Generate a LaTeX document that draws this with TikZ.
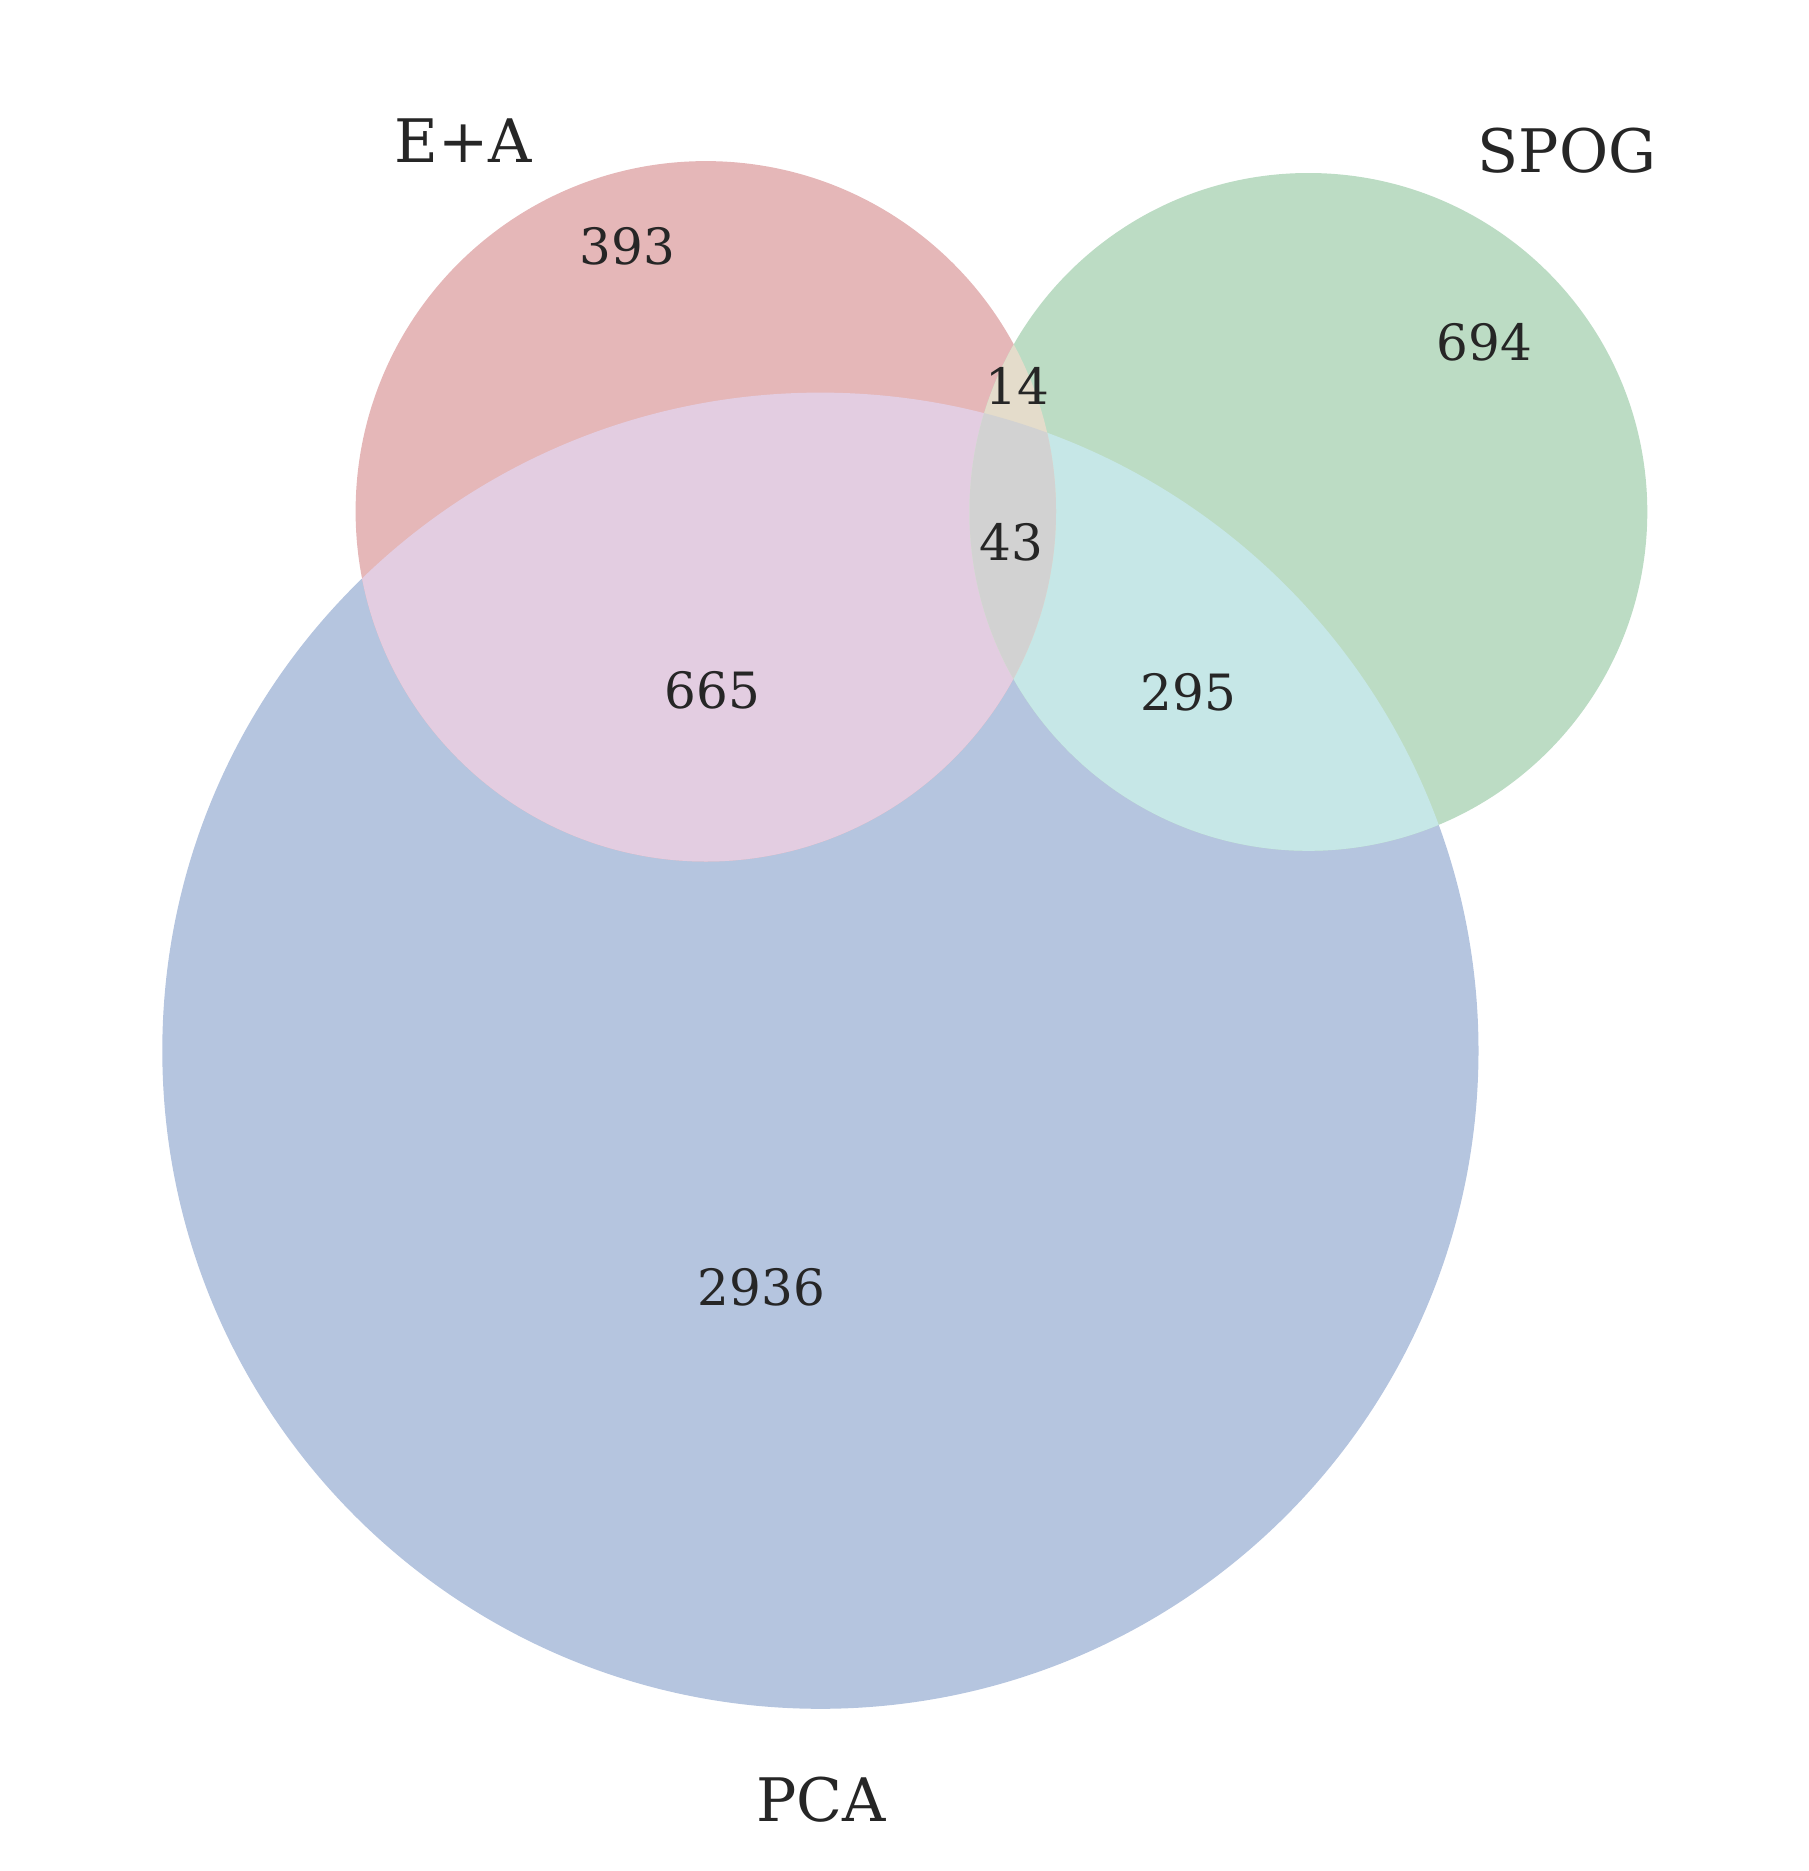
\documentclass[tikz,border=0pt]{standalone}
\usepackage{fontspec}
\setmainfont{DejaVu Serif}
\definecolor{cR}{HTML}{E5B7B8}
\definecolor{cG}{HTML}{BCDCC4}
\definecolor{cB}{HTML}{B5C5DF}
\definecolor{cRB}{HTML}{E3CDE1}
\definecolor{cGB}{HTML}{C6E7E7}
\definecolor{cRG}{HTML}{E4DCCB}
\definecolor{cRGB}{HTML}{D2D2D2}
\definecolor{txt}{HTML}{262626}
\tikzset{
  setlabel/.style={text=txt, font=\fontsize{60}{66}\selectfont, inner sep=0pt},
  numlabel/.style={text=txt, font=\fontsize{50}{56}\selectfont, inner sep=0pt}
}
\begin{document}
\begin{tikzpicture}[x=1pt,y=-1pt]
\useasboundingbox (0,0) rectangle (1809,1871);
\def\EA{(705.8,511.3) circle (350.2)}
\def\SP{(1308.4,511.9) circle (338.9)}
\def\PC{(820.4,1050.7) circle (658.1)}
% single sets
\fill[cB] \PC;
\fill[cR] \EA;
\fill[cG] \SP;
% pairwise
\begin{scope}\clip \EA; \fill[cRB] \PC; \end{scope}
\begin{scope}\clip \SP; \fill[cGB] \PC; \end{scope}
\begin{scope}\clip \EA; \fill[cRG] \SP; \end{scope}
\begin{scope}\clip \EA; \clip \SP; \fill[cRGB] \PC; \end{scope}
% labels
\node[setlabel] (lEA) at (463,141) {E+A};
\node[setlabel] (lSP) at (1567,151) {SPOG};
\node[setlabel] (lPC) at (821,1800) {PCA};
\node[numlabel] (n393) at (627.5,246) {393};
\node[numlabel] (n694) at (1484.5,342) {694};
\node[numlabel] (n14) at (1017,386) {14};
\node[numlabel] (n43) at (1011,542) {43};
\node[numlabel] (n665) at (712.5,690) {665};
\node[numlabel] (n295) at (1188.5,692.5) {295};
\node[numlabel] (n2936) at (761.5,1287) {2936};
\end{tikzpicture}
\end{document}
